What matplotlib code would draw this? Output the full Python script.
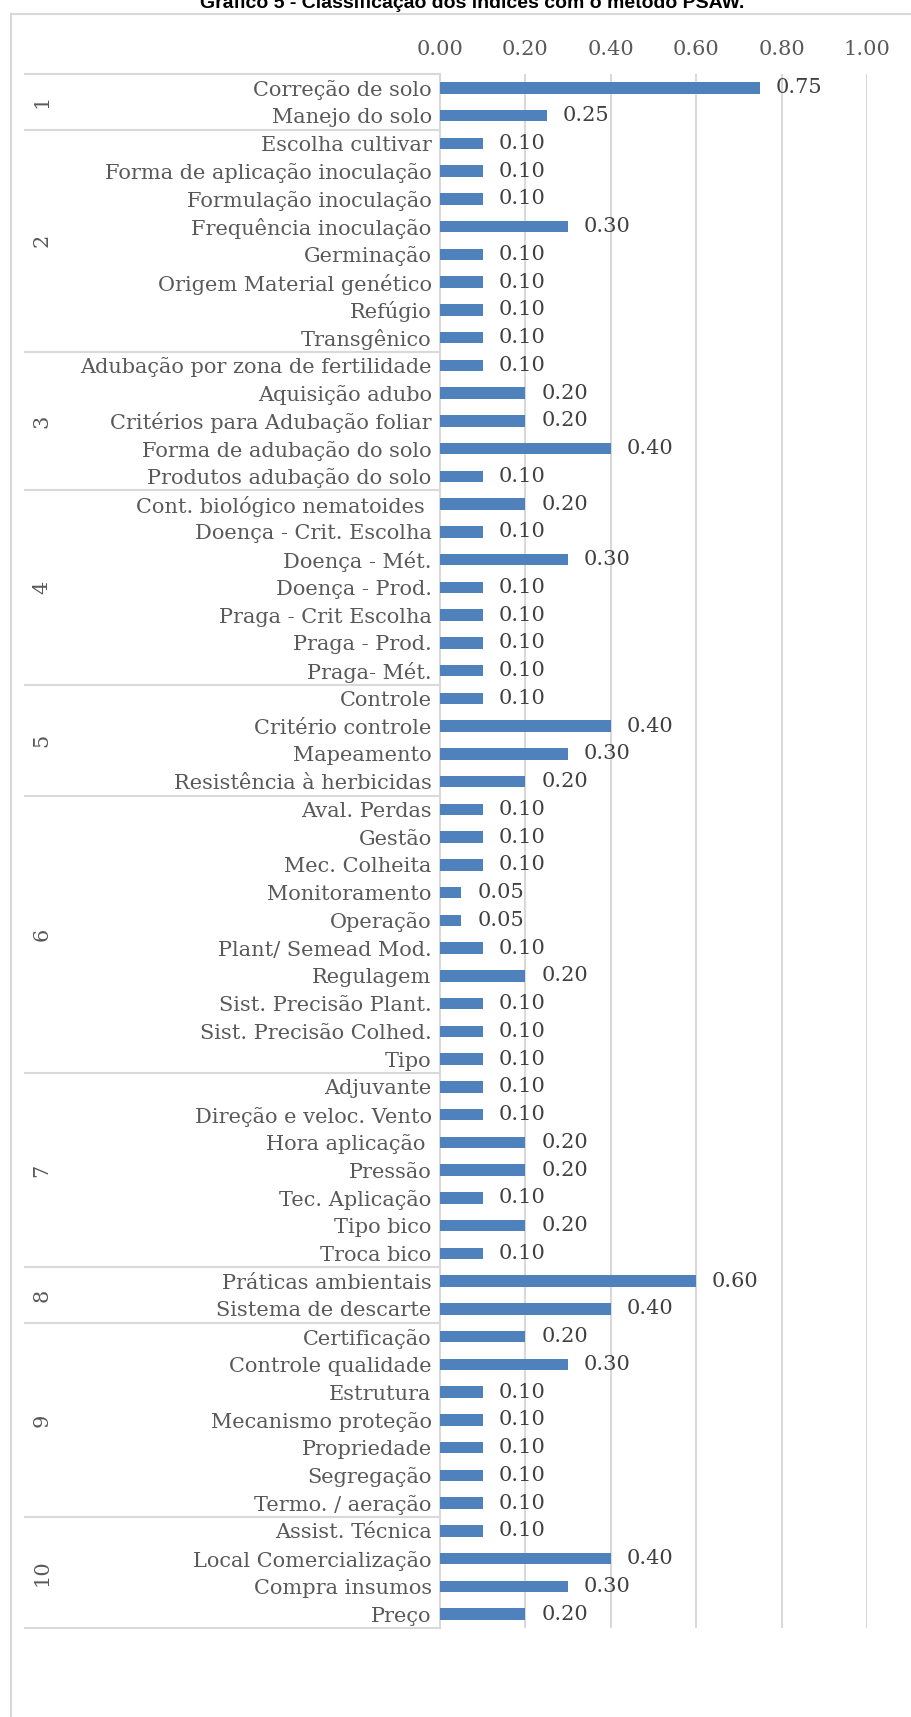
import matplotlib.pyplot as plt
import matplotlib.transforms as mtransforms

groups = ['1', '2', '3', '4', '5', '6', '7', '8', '9', '10']
group_sizes = [2, 8, 5, 7, 4, 10, 7, 2, 7, 4]
labels = [
    'Correção de solo', 'Manejo do solo',
    'Escolha cultivar', 'Forma de aplicação inoculação', 'Formulação inoculação',
    'Frequência inoculação', 'Germinação', 'Origem Material genético', 'Refúgio',
    'Transgênico',
    'Adubação por zona de fertilidade', 'Aquisição adubo',
    'Critérios para Adubação foliar', 'Forma de adubação do solo',
    'Produtos adubação do solo',
    'Cont. biológico nematoides ', 'Doença - Crit. Escolha', 'Doença - Mét.',
    'Doença - Prod.', 'Praga - Crit Escolha', 'Praga - Prod.', 'Praga- Mét.',
    'Controle', 'Critério controle', 'Mapeamento', 'Resistência à herbicidas',
    'Aval. Perdas', 'Gestão', 'Mec. Colheita', 'Monitoramento', 'Operação',
    'Plant/ Semead Mod.', 'Regulagem', 'Sist. Precisão Plant.',
    'Sist. Precisão Colhed.', 'Tipo',
    'Adjuvante', 'Direção e veloc. Vento', 'Hora aplicação ', 'Pressão',
    'Tec. Aplicação', 'Tipo bico', 'Troca bico',
    'Práticas ambientais', 'Sistema de descarte',
    'Certificação', 'Controle qualidade', 'Estrutura', 'Mecanismo proteção',
    'Propriedade', 'Segregação', 'Termo. / aeração',
    'Assist. Técnica', 'Local Comercialização', 'Compra insumos', 'Preço',
]
values = [
    0.75, 0.25,
    0.10, 0.10, 0.10, 0.30, 0.10, 0.10, 0.10, 0.10,
    0.10, 0.20, 0.20, 0.40, 0.10,
    0.20, 0.10, 0.30, 0.10, 0.10, 0.10, 0.10,
    0.10, 0.40, 0.30, 0.20,
    0.10, 0.10, 0.10, 0.05, 0.05, 0.10, 0.20, 0.10, 0.10, 0.10,
    0.10, 0.10, 0.20, 0.20, 0.10, 0.20, 0.10,
    0.60, 0.40,
    0.20, 0.30, 0.10, 0.10, 0.10, 0.10, 0.10,
    0.10, 0.40, 0.30, 0.20,
]
xticks = [0.0, 0.2, 0.4, 0.6, 0.8, 1.0]

W, H = 912, 1717
txt = '#595959'
grid = '#D9D9D9'
bar_color = '#4F81BD'
fs = 15
plt.rcParams['font.family'] = ['DejaVu Serif']

fig = plt.figure(figsize=(W / 100, H / 100), dpi=100)
left, right, top, bottom = 440, 867, 74, 1628
ax = fig.add_axes([left / W, 1 - bottom / H, (right - left) / W, (bottom - top) / H])

n = len(labels)
ypos = list(range(n))
ax.barh(ypos, values, height=0.42, color=bar_color, zorder=3)
for y, v in zip(ypos, values):
    ax.text(v + 0.037, y, f'{v:.2f}', va='center', ha='left', fontsize=fs, color='#404040', zorder=4)

ax.set_xlim(0, 1.0)
ax.set_ylim(n - 0.5, -0.5)
ax.xaxis.tick_top()
ax.set_xticks(xticks)
ax.set_xticklabels([f'{t:.2f}' for t in xticks], fontsize=fs, color=txt)
ax.set_yticks(ypos)
ax.set_yticklabels(labels, fontsize=fs, color=txt)
ax.tick_params(axis='x', length=0, pad=11)
ax.tick_params(axis='y', length=0, pad=6)
for x in xticks[1:]:
    ax.axvline(x, color=grid, lw=1.5, zorder=1)
for s in ['top', 'right', 'bottom']:
    ax.spines[s].set_visible(False)
ax.spines['left'].set_color(grid)
ax.spines['left'].set_linewidth(1.5)

# group separators and group labels
tr = mtransforms.blended_transform_factory(ax.transAxes, ax.transData)
x0 = (25 - left) / (right - left)
start = 0
bounds = [-0.5]
for g, size in zip(groups, group_sizes):
    end = start + size
    bounds.append(end - 0.5)
    mid = (start + end - 1) / 2
    ax.text((42 - left) / (right - left), mid, g, rotation=90, ha='center', va='center',
            fontsize=fs, color=txt, transform=tr)
    start = end
for b in bounds:
    ax.plot([x0, 0], [b, b], color=grid, lw=1.5, transform=tr, clip_on=False)

# chart frame (cut by the image edges)
fig.add_artist(plt.Line2D([11 / W, 11 / W], [0, 1 - 14 / H], color=grid, lw=1.5))
fig.add_artist(plt.Line2D([11 / W, 1], [1 - 14 / H, 1 - 14 / H], color=grid, lw=1.5))

fig.text(472 / W, 1 - 8 / H, 'Gráfico 5 - Classificação dos índices com o método PSAW.',
         ha='center', va='baseline', fontsize=14, fontweight='bold',
         family='Liberation Sans', color='black')

fig.savefig('out.png', dpi=100)
